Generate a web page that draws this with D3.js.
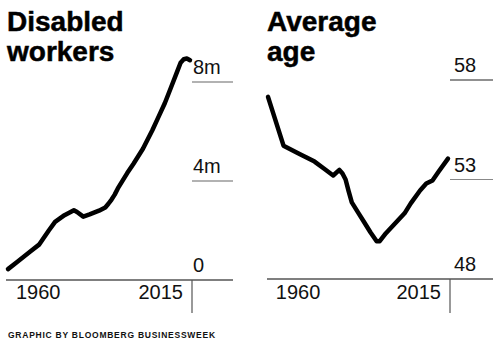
<!DOCTYPE html>
<html>
<head>
<meta charset="utf-8">
<script src="https://cdn.jsdelivr.net/npm/d3@7"></script>
<style>
  body { margin: 0; background: #fff; }
  svg { display: block; }
  .title { font-family: "Liberation Sans", Arial, sans-serif; font-weight: bold; font-size: 28px; fill: #000; stroke: #000; stroke-width: 0.5px; }
  .tick { font-family: "Liberation Sans", Arial, sans-serif; font-size: 20px; fill: #111; }
  .credit { font-family: "Liberation Sans", Arial, sans-serif; font-weight: bold; font-size: 8.5px; letter-spacing: 0.75px; fill: #111; }
</style>
</head>
<body>
<svg id="chart" width="500" height="353"></svg>
<script>
// Disabled workers receiving benefits, millions
const workerYears = [1957, 1960, 1964, 1967, 1970, 1972, 1975, 1978, 1979, 1981, 1983, 1986, 1988, 1989, 1990, 1991, 1992, 1995, 1997, 2000, 2003, 2005, 2007, 2009, 2011, 2012, 2013, 2014, 2015];
const workerValues = [0.44, 0.74, 1.14, 1.44, 2.0, 2.35, 2.62, 2.82, 2.75, 2.56, 2.65, 2.8, 2.93, 3.08, 3.25, 3.45, 3.7, 4.32, 4.7, 5.3, 6.05, 6.6, 7.15, 7.8, 8.45, 8.78, 8.92, 8.95, 8.88];
const workerTicks = [0, 4, 8];
const workerTickLabels = ["0", "4m", "8m"];

// Average age of disabled workers
const ageYears = [1957, 1962, 1967, 1972, 1975, 1978, 1980, 1981, 1982, 1983, 1984, 1986, 1988, 1990, 1992, 1993, 1995, 1998, 2001, 2003, 2006, 2008, 2010, 2012, 2015];
const ageValues = [57.15, 54.7, 54.3, 53.9, 53.55, 53.2, 53.48, 53.3, 53.0, 52.4, 51.85, 51.35, 50.85, 50.35, 49.9, 49.9, 50.3, 50.8, 51.3, 51.8, 52.45, 52.8, 52.95, 53.4, 54.05];
const ageTicks = [48, 53, 58];
const ageTickLabels = ["48", "53", "58"];

const yearLabels = [1960, 2015];

const svg = d3.select("#chart");

function drawPanel(opts) {
    const g = svg.append("g");

    const x = d3.scaleLinear().domain([1957, 2015]).range(opts.xRange);
    const y = d3.scaleLinear().domain(opts.yDomain).range(opts.yRange);

    // title, two lines
    const title = g.append("text").attr("class", "title").attr("x", opts.titleX).attr("y", 31);
    opts.title.forEach((t, i) => {
        title.append("tspan").attr("x", opts.titleX).attr("dy", i === 0 ? 0 : 30).text(t);
    });

    // gridline stubs + value labels on the right
    opts.ticks.forEach((v, i) => {
        if (i > 0) {
            g.append("line")
                .attr("x1", opts.gridX[0]).attr("x2", opts.gridX[1])
                .attr("y1", y(v)).attr("y2", y(v))
                .attr("stroke", opts.gridColors[i]).attr("stroke-width", 1.2);
        }
        g.append("text").attr("class", "tick")
            .attr("x", opts.gridX[0] + opts.labelPad)
            .attr("y", y(v) - 8)
            .text(opts.tickLabels[i]);
    });

    // baseline and the vertical divider
    g.append("line")
        .attr("x1", opts.baseX[0]).attr("x2", opts.baseX[1])
        .attr("y1", y(opts.yDomain[0])).attr("y2", y(opts.yDomain[0]))
        .attr("stroke", "#000").attr("stroke-width", 1.2);
    g.append("line")
        .attr("x1", opts.gridX[0]).attr("x2", opts.gridX[0])
        .attr("y1", y(opts.yDomain[0])).attr("y2", 313)
        .attr("stroke", "#555").attr("stroke-width", 1.2);

    // year labels
    g.append("text").attr("class", "tick")
        .attr("x", x(yearLabels[0]) - 1.5).attr("y", 299)
        .text(yearLabels[0]);
    g.append("text").attr("class", "tick")
        .attr("text-anchor", "end")
        .attr("x", x(yearLabels[1]) - 7).attr("y", 299)
        .text(yearLabels[1]);

    // the line
    const line = d3.line()
        .x((d, i) => x(opts.years[i]))
        .y(d => y(d));
    g.append("path")
        .datum(opts.values)
        .attr("d", line)
        .attr("fill", "none")
        .attr("stroke", "#000")
        .attr("stroke-width", 4.5)
        .attr("stroke-linecap", "round")
        .attr("stroke-linejoin", "round");
}

drawPanel({
    title: ["Disabled", "workers"], titleX: 7,
    years: workerYears, values: workerValues,
    ticks: workerTicks, tickLabels: workerTickLabels,
    xRange: [8, 190], yDomain: [0, 8], yRange: [280, 82],
    gridX: [192, 233], baseX: [6, 233], labelPad: 1,
    gridColors: ["#000", "#666", "#666"]
});

drawPanel({
    title: ["Average", "age"], titleX: 267,
    years: ageYears, values: ageValues,
    ticks: ageTicks, tickLabels: ageTickLabels,
    xRange: [268, 448], yDomain: [48, 58], yRange: [279, 80],
    gridX: [450, 493], baseX: [267, 493], labelPad: 4,
    gridColors: ["#000", "#888", "#222"]
});

svg.append("text").attr("class", "credit")
    .attr("x", 8).attr("y", 338)
    .text("GRAPHIC BY BLOOMBERG BUSINESSWEEK");
</script>
</body>
</html>
